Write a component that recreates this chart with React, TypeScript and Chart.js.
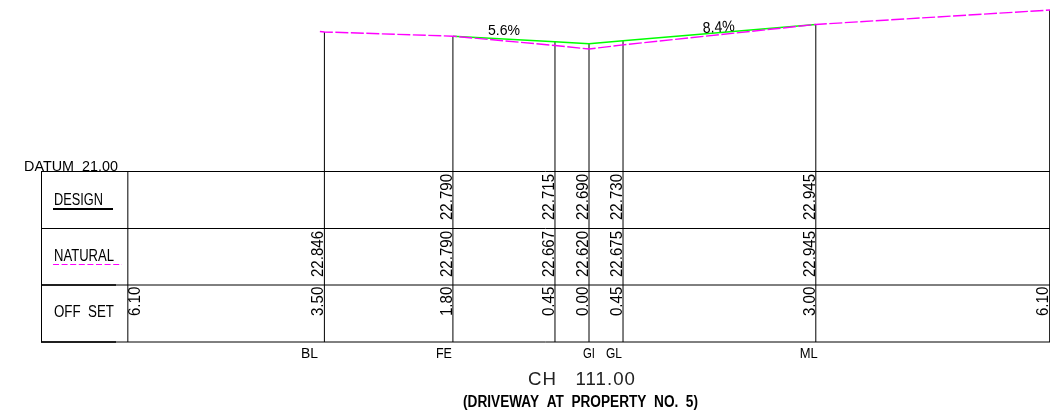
import React, { useEffect, useRef } from "react";
import { Chart, registerables } from "chart.js";

Chart.register(...registerables);

// Station data
const stationCodes = ["BL", "FE", "", "GI", "GL", "ML"];
const stationOffsets = [-3.5, -1.8, -0.45, 0, 0.45, 3.0];
const designLevels = [null, 22.79, 22.715, 22.69, 22.73, 22.945];
const naturalLevels = [22.846, 22.79, 22.667, 22.62, 22.675, 22.945];
const offsetLabels = ["3.50", "1.80", "0.45", "0.00", "0.45", "3.00"];

// Natural surface runs past the stations at both ends
const naturalStart = { x: -3.56, y: 22.852 };
const naturalEnd = { x: 6.1, y: 23.136 };
const edgeOffset = 6.1;
const edgeLabel = "6.10";
const datum = 21.0;
const gradeLabels = ["5.6%", "8.4%"];

const W = 1050;
const H = 415;
const PX_PER_M = 75.6;
const X0 = 589;
const DATUM_Y = 171.5;
const ROW_Y = [171.5, 228.5, 285, 342];
const FONT = '"Liberation Sans", Arial, sans-serif';
const INK = "#000000";

function fitText(
  ctx: CanvasRenderingContext2D,
  str: string,
  x: number,
  baseline: number,
  width: number,
  size: number,
  opts: { weight?: string; color?: string; rotate?: number; spacing?: string } = {}
) {
  ctx.save();
  ctx.font = `${opts.weight ?? "normal"} ${size}px ${FONT}`;
  if (opts.spacing) (ctx as any).letterSpacing = opts.spacing;
  ctx.fillStyle = opts.color ?? INK;
  ctx.textAlign = "left";
  ctx.textBaseline = "alphabetic";
  const natural = ctx.measureText(str).width;
  ctx.translate(x, baseline);
  if (opts.rotate) ctx.rotate(opts.rotate);
  ctx.scale(width / natural, 1);
  ctx.fillText(str, 0, 0);
  ctx.restore();
}

function vText(ctx: CanvasRenderingContext2D, str: string, baselineX: number, bottomY: number) {
  ctx.save();
  ctx.font = `16px ${FONT}`;
  ctx.fillStyle = INK;
  ctx.textAlign = "left";
  ctx.textBaseline = "alphabetic";
  ctx.translate(baselineX, bottomY);
  ctx.rotate(-Math.PI / 2);
  ctx.scale(0.94, 1);
  ctx.fillText(str, 0, 0);
  ctx.restore();
}

function line(
  ctx: CanvasRenderingContext2D,
  x1: number,
  y1: number,
  x2: number,
  y2: number,
  color = INK,
  w = 1,
  dash: number[] = []
) {
  ctx.save();
  ctx.strokeStyle = color;
  ctx.lineWidth = w;
  ctx.setLineDash(dash);
  ctx.beginPath();
  ctx.moveTo(x1, y1);
  ctx.lineTo(x2, y2);
  ctx.stroke();
  ctx.restore();
}

const sectionPlugin = {
  id: "section",
  beforeDatasetsDraw(chart: any) {
    const ctx: CanvasRenderingContext2D = chart.ctx;
    const xs = chart.scales.x;
    const ys = chart.scales.y;
    const bottom = ROW_Y[3];

    // table frame
    ROW_Y.forEach((y) => line(ctx, 41, y, W, y));
    line(ctx, 41.5, ROW_Y[0], 41.5, bottom);
    line(ctx, 41, 285, 116, 285, INK, 1.6);
    line(ctx, 41, 342, 116, 342, INK, 1.6);
    const leftX = xs.getPixelForValue(-edgeOffset);
    line(ctx, leftX, ROW_Y[0], leftX, bottom);

    // stems
    stationOffsets.forEach((o, i) => {
      const lvl = designLevels[i] ?? naturalLevels[i];
      const x = xs.getPixelForValue(o);
      line(ctx, x, ys.getPixelForValue(lvl), x, bottom);
    });
    const rightX = xs.getPixelForValue(naturalEnd.x) - 0.5;
    line(ctx, rightX, ys.getPixelForValue(naturalEnd.y), rightX, bottom);
  },
  afterDatasetsDraw(chart: any) {
    const ctx: CanvasRenderingContext2D = chart.ctx;
    const xs = chart.scales.x;

    // row values
    stationOffsets.forEach((o, i) => {
      const bx = xs.getPixelForValue(o) - 1;
      const d = designLevels[i];
      if (d !== null) vText(ctx, d.toFixed(3), bx, 220);
      vText(ctx, naturalLevels[i].toFixed(3), bx, 277);
      vText(ctx, offsetLabels[i], bx, 316);
    });
    vText(ctx, edgeLabel, xs.getPixelForValue(-edgeOffset) + 12.5, 316);
    vText(ctx, edgeLabel, xs.getPixelForValue(edgeOffset) - 2, 316);

    // headings
    fitText(ctx, `DATUM  ${datum.toFixed(2)}`, 24, 170.5, 94, 15);
    fitText(ctx, "DESIGN", 54, 205, 49, 16);
    line(ctx, 53, 209, 113, 209, INK, 2);
    fitText(ctx, "NATURAL", 54, 261, 60, 16);
    line(ctx, 53, 264.5, 122, 264.5, "#ff00ff", 1.2, [6, 2.6]);
    fitText(ctx, "OFF  SET", 54, 317, 60, 16);

    // station codes
    const codeShift = [-23.5, -17, 0, -6, -17, -16];
    const codeWidth = [17, 16, 0, 12, 16, 18];
    stationCodes.forEach((c, i) => {
      if (c) fitText(ctx, c, xs.getPixelForValue(stationOffsets[i]) + codeShift[i], 358, codeWidth[i], 15.5);
    });

    // grades
    fitText(ctx, gradeLabels[0], 488, 35, 32, 15.5);
    fitText(ctx, gradeLabels[1], 703, 33, 32, 15.5, { rotate: -0.06 });

    // titles
    fitText(ctx, "CH   111.00", 528, 385, 108, 18.5, { color: "#222222", spacing: "1px" });
    fitText(ctx, "(DRIVEWAY  AT  PROPERTY  NO.  5)", 463, 407, 235, 16, { weight: "bold" });
  },
};

export default function App() {
  const ref = useRef<HTMLCanvasElement>(null);
  useEffect(() => {
    if (!ref.current) return;
    const naturalPts = [
      naturalStart,
      ...stationOffsets.map((x, i) => ({ x, y: naturalLevels[i] })),
      naturalEnd,
    ];
    const designPts = stationOffsets
      .map((x, i) => ({ x, y: designLevels[i] }))
      .filter((p) => p.y !== null);
    const chart = new Chart(ref.current, {
      type: "scatter",
      data: {
        datasets: [
          {
            label: "Natural",
            data: naturalPts as any,
            showLine: true,
            borderColor: "#ff00ff",
            borderWidth: 1.4,
            borderDash: [13, 2.5],
            pointRadius: 0,
            order: 1,
          },
          {
            label: "Design",
            data: designPts as any,
            showLine: true,
            borderColor: "#00ff00",
            borderWidth: 1.5,
            pointRadius: 0,
            order: 2,
          },
        ],
      },
      options: {
        animation: false,
        responsive: false,
        devicePixelRatio: 1,
        layout: { padding: 0 },
        plugins: { legend: { display: false }, tooltip: { enabled: false } },
        scales: {
          x: {
            type: "linear",
            display: false,
            min: -X0 / PX_PER_M,
            max: (W - X0) / PX_PER_M,
          },
          y: {
            type: "linear",
            display: false,
            min: datum - (H - DATUM_Y) / PX_PER_M,
            max: datum + DATUM_Y / PX_PER_M,
          },
        },
      },
      plugins: [sectionPlugin as any],
    });
    return () => chart.destroy();
  }, []);
  return (
    <canvas
      ref={ref}
      width={W}
      height={H}
      style={{ position: "absolute", left: 0, top: 0, display: "block", background: "#ffffff" }}
    />
  );
}
